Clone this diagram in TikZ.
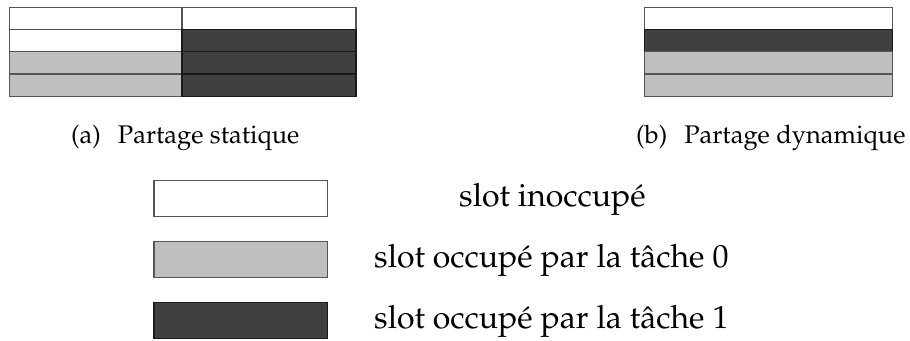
\documentclass[tikz,border=0pt]{standalone}
\usepackage[T1]{fontenc}
\renewcommand{\rmdefault}{ppl}
\definecolor{tacheA}{HTML}{BFBFBF}
\definecolor{tacheB}{HTML}{404040}
\definecolor{bordA}{HTML}{555555}
\definecolor{bordB}{HTML}{1A1A1A}
\tikzset{
  cell/.style={rectangle, inner sep=0pt, outer sep=0pt, line width=1.2pt},
  libre/.style={cell, draw=bordA, fill=white},
  zero/.style={cell, draw=bordA, fill=tacheA},
  un/.style={cell, draw=bordB, fill=tacheB},
  colL/.style={minimum width=172.7pt, minimum height=22.35pt},
  colR/.style={minimum width=174pt, minimum height=22.35pt},
  colD/.style={minimum width=248.4pt, minimum height=22.35pt},
  legbox/.style={minimum width=173.5pt, minimum height=36pt},
  captext/.style={font=\fontsize{25.5}{30}\selectfont, inner sep=0pt, anchor=base west},
  legtext/.style={font=\fontsize{32}{38}\selectfont, inner sep=0pt, anchor=base west}
}
\begin{document}
\begin{tikzpicture}[x=1pt,y=1pt]
\useasboundingbox (0,0) rectangle (910,340);
% (a) static sharing
\node[libre, colL] (a11) at (95.65,321.7) {};
\node[libre, colR] (a12) at (269,321.7) {};
\node[libre, colL] (a21) at (95.65,299.5) {};
\node[un, colR] (a22) at (269,299.5) {};
\node[zero, colL] (a31) at (95.65,277.15) {};
\node[un, colR] (a32) at (269,277.15) {};
\node[zero, colL] (a41) at (95.65,254.65) {};
\node[un, colR] (a42) at (269,254.65) {};
% (b) dynamic sharing
\node[libre, colD] (b1) at (768.5,321.7) {};
\node[un, colD] (b2) at (768.5,299.5) {};
\node[zero, colD] (b3) at (768.5,277.15) {};
\node[zero, colD] (b4) at (768.5,254.65) {};
% captions
\node[captext] (capa) at (71,196) {(a)\hspace{17pt}Partage statique};
\node[captext] (capb) at (636,196) {(b)\hspace{17pt}Partage dynamique};
% legend
\node[libre, legbox] (l1) at (240.75,141.7) {};
\node[zero, legbox] (l2) at (240.75,80.7) {};
\node[un, legbox] (l3) at (240.75,19.7) {};
\node[legtext] (t1) at (459,133.2) {slot inoccup\'e};
\node[legtext] (t2) at (374,72.2) {slot occup\'e par la t\^ache 0};
\node[legtext] (t3) at (374,11.2) {slot occup\'e par la t\^ache 1};
\end{tikzpicture}
\end{document}
